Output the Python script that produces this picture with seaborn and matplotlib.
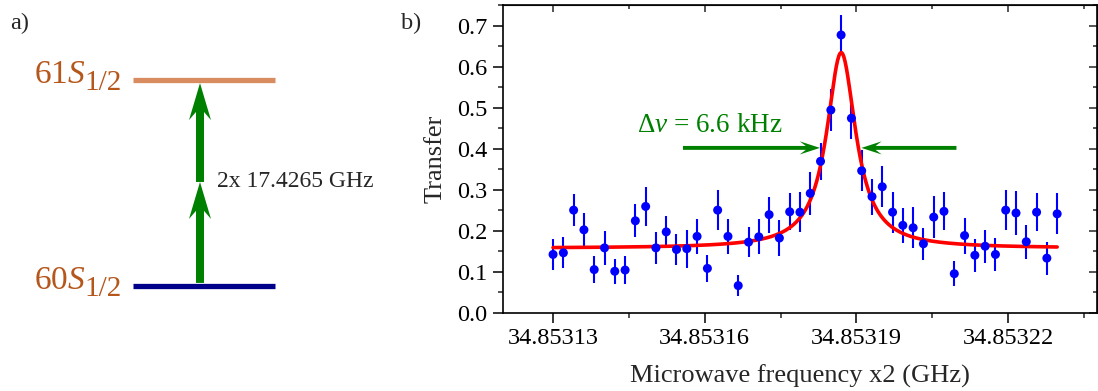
import numpy as np
import pandas as pd
import matplotlib
matplotlib.use("Agg")
import matplotlib.pyplot as plt
from matplotlib.ticker import FixedLocator, AutoMinorLocator, FormatStrFormatter
import seaborn as sns

# ---------------- data ----------------
freq_ghz = [34.85313000, 34.85313204, 34.85313407, 34.85313611, 34.85313814,
            34.85314018, 34.85314221, 34.85314425, 34.85314628, 34.85314832,
            34.85315035, 34.85315239, 34.85315442, 34.85315646, 34.85315849,
            34.85316053, 34.85316256, 34.85316460, 34.85316663, 34.85316867,
            34.85317070, 34.85317274, 34.85317477, 34.85317681, 34.85317884,
            34.85318088, 34.85318291, 34.85318495, 34.85318698, 34.85318902,
            34.85319105, 34.85319309, 34.85319512, 34.85319716, 34.85319919,
            34.85320123, 34.85320326, 34.85320530, 34.85320733, 34.85320937,
            34.85321140, 34.85321344, 34.85321547, 34.85321751, 34.85321954,
            34.85322158, 34.85322361, 34.85322565, 34.85322768, 34.85322972]
transfer = [0.142, 0.146, 0.250, 0.202, 0.105, 0.158, 0.101, 0.104, 0.224, 0.259,
            0.158, 0.197, 0.154, 0.156, 0.186, 0.108, 0.250, 0.186, 0.066, 0.172,
            0.185, 0.239, 0.182, 0.246, 0.245, 0.291, 0.369, 0.494, 0.677, 0.474,
            0.346, 0.283, 0.307, 0.245, 0.213, 0.207, 0.168, 0.233, 0.247, 0.095,
            0.188, 0.140, 0.162, 0.142, 0.250, 0.243, 0.173, 0.245, 0.133, 0.241]
transfer_err = [0.038, 0.038, 0.039, 0.040, 0.032, 0.042, 0.031, 0.033, 0.040, 0.048,
                0.039, 0.039, 0.038, 0.046, 0.042, 0.032, 0.048, 0.042, 0.026, 0.037,
                0.043, 0.044, 0.045, 0.045, 0.048, 0.052, 0.045, 0.052, 0.049, 0.051,
                0.050, 0.044, 0.050, 0.050, 0.043, 0.050, 0.039, 0.051, 0.046, 0.030,
                0.044, 0.040, 0.040, 0.040, 0.048, 0.054, 0.041, 0.047, 0.040, 0.050]

# Lorentzian fit parameters
fit_offset = 0.157
fit_amplitude = 0.477
fit_center = 34.8531870
fit_hwhm = 3.5e-6

x_ticks = [34.85313, 34.85316, 34.85319, 34.85322]
x_tick_labels = ["34.85313", "34.85316", "34.85319", "34.85322"]
y_ticks = [0.0, 0.1, 0.2, 0.3, 0.4, 0.5, 0.6, 0.7]

# level diagram
level_energy = [0.0, 1.0]
level_main = [r"60$S$", r"61$S$"]
level_sub = ["1/2", "1/2"]
level_colors = ["#00008b", "#d98c60"]
photon_steps = [0.015, 0.505, 0.985]
photon_label = "2x 17.4265 GHz"

# ---------------- style ----------------
sns.set_style("ticks")
plt.rcParams["font.family"] = ["Liberation Serif", "DejaVu Serif"]
plt.rcParams["mathtext.fontset"] = "custom"
plt.rcParams["mathtext.rm"] = "Liberation Serif"
plt.rcParams["mathtext.it"] = "Liberation Serif:italic"

fig = plt.figure(figsize=(10.98, 3.91), dpi=100)
W, H = 1098.0, 391.0

# ---------------- panel a ----------------
ax0 = fig.add_axes([0, 0, 400 / W, 1])
ax0.set_xlim(0, 400)
ax0.set_ylim(-105 / 206, 1 + 80 / 206)
ax0.axis("off")
label_color = "#b5561b"
for e, main, sub, c in zip(level_energy, level_main, level_sub, level_colors):
    ax0.hlines(e, 133, 275, color=c, lw=3.8)
    ax0.text(86, e - 3 / 206, main, ha="right", va="baseline", fontsize=24,
             color=label_color)
    ax0.text(84, e - 10 / 206, sub, ha="left", va="baseline", fontsize=21,
             color=label_color)
for i in range(len(photon_steps) - 1):
    y0, y1 = photon_steps[i], photon_steps[i + 1]
    ax0.arrow(200, y0, 0, y1 - y0,
              width=8, head_width=22, head_length=37 / 206, overhang=0.22,
              length_includes_head=True, color="#008000", lw=0)
ax0.text(217, 0.505, photon_label, ha="left", va="center", fontsize=17)
fig.text(10 / W, 1 - 23 / H, "a)", ha="left", va="center", fontsize=17.5)
fig.text(401 / W, 1 - 23 / H, "b)", ha="left", va="center", fontsize=17.5)

# ---------------- panel b ----------------
ax = fig.add_axes([503 / W, 1 - 312.7 / H, (1097 - 503) / W, (312.7 - 5) / H])
df = pd.DataFrame({"freq": freq_ghz, "transfer": transfer, "err": transfer_err})

ax.errorbar(df["freq"], df["transfer"], yerr=df["err"], fmt="none",
            ecolor="#0000ff", elinewidth=1.5, capsize=0, zorder=2)
fit_x = np.linspace(freq_ghz[0], freq_ghz[-1], 800)
fit_y = fit_offset + fit_amplitude / (1 + ((fit_x - fit_center) / fit_hwhm) ** 2)
sns.lineplot(x=fit_x, y=fit_y, color="#ff0000", lw=2.6, ax=ax, zorder=2.5)
sns.scatterplot(data=df, x="freq", y="transfer", color="#0000ff", s=42,
                edgecolor="none", ax=ax, zorder=3)

# FWHM annotation
green = "#008000"
ax.arrow(34.8531557, 0.4017, 34.8531828 - 34.8531557, 0, width=0.0095,
         head_width=0.032, head_length=4.0e-6, overhang=0.3,
         length_includes_head=True, color=green, lw=0, zorder=4)
ax.arrow(34.8532098, 0.4017, 34.8531910 - 34.8532098, 0, width=0.0095,
         head_width=0.032, head_length=4.0e-6, overhang=0.3,
         length_includes_head=True, color=green, lw=0, zorder=4)
ax.text(34.8531466, 0.456, r"$\Delta\nu$ = 6.6 kHz", color=green,
        fontsize=19.5, ha="left", va="center")

ax.set_xlim(34.8531201, 34.8532376)
ax.set_ylim(0, 0.75)
ax.xaxis.set_major_locator(FixedLocator(x_ticks))
ax.set_xticklabels(x_tick_labels)
ax.xaxis.set_minor_locator(AutoMinorLocator(2))
ax.yaxis.set_major_locator(FixedLocator(y_ticks))
ax.yaxis.set_major_formatter(FormatStrFormatter("%.1f"))
ax.yaxis.set_minor_locator(AutoMinorLocator(2))
ax.tick_params(which="major", direction="out", length=7, width=1.1, labelsize=17.5,
               pad=4, colors="black")
ax.tick_params(which="minor", direction="out", length=3.5, width=1.1)
for s in ax.spines.values():
    s.set_visible(True)
    s.set_linewidth(1.2)
    s.set_color("black")

sx = ax.secondary_xaxis("top")
sx.xaxis.set_major_locator(FixedLocator(x_ticks))
sx.xaxis.set_minor_locator(AutoMinorLocator(2))
sx.tick_params(which="major", direction="in", length=5, width=1.1, labeltop=False)
sx.tick_params(which="minor", direction="in", length=3, width=1.1)
sy = ax.secondary_yaxis("right")
sy.yaxis.set_major_locator(FixedLocator(y_ticks))
sy.yaxis.set_minor_locator(AutoMinorLocator(2))
sy.tick_params(which="major", direction="in", length=6, width=1.1, labelright=False)
sy.tick_params(which="minor", direction="in", length=3, width=1.1)

ax.set_xlabel("Microwave frequency x2 (GHz)", fontsize=19, labelpad=11)
ax.set_ylabel("Transfer", fontsize=19, labelpad=8)

fig.savefig("out.png", dpi=100)
